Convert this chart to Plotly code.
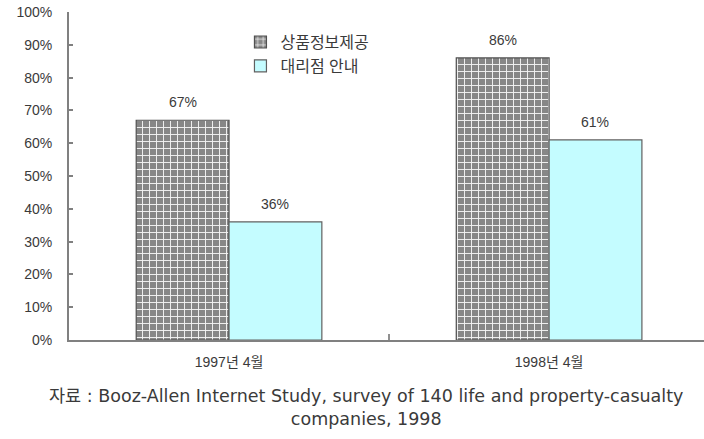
import plotly.graph_objects as go

categories = ["1997년 4월", "1998년 4월"]
series_names = ["상품정보제공", "대리점 안내"]
product_info = [67, 86]
agent_info = [36, 61]
y_ticks = [0, 10, 20, 30, 40, 50, 60, 70, 80, 90, 100]

FONT = "Liberation Sans, Noto Sans CJK KR, sans-serif"
TXT = "#3a3a3a"

fig = go.Figure()
fig.add_trace(go.Bar(
    x=categories, y=product_info, name=series_names[0],
    marker=dict(color="#8a8a8a", line=dict(color="#505050", width=1.2),
                pattern=dict(shape="+", fgcolor="#f4f4f4", bgcolor="#878787",
                             size=7, solidity=0.25, fillmode="replace")),
))
fig.add_trace(go.Bar(
    x=categories, y=agent_info, name=series_names[1],
    marker=dict(color="#c4fcff", line=dict(color="#606060", width=1.2)),
))

# value labels above bars (offset left/right half a bar within each group)
BAR_HALF_PX = 46
for series, shift in ((product_info, -BAR_HALF_PX), (agent_info, BAR_HALF_PX)):
    for cat, val in zip(categories, series):
        fig.add_annotation(
            x=cat, y=val, text=f"{val}%", showarrow=False,
            xanchor="center", yanchor="bottom", xshift=shift, yshift=8,
            font=dict(size=14, color=TXT, family=FONT),
        )

fig.update_layout(
    width=704, height=439,
    margin=dict(l=69, r=0, t=12, b=99),
    paper_bgcolor="white", plot_bgcolor="white",
    barmode="group", bargap=0.42, bargroupgap=0,
    font=dict(family=FONT, color=TXT, size=13),
    showlegend=True,
    legend=dict(x=0.27, y=0.96, xanchor="left", yanchor="top",
                bgcolor="rgba(0,0,0,0)", font=dict(size=16, color=TXT),
                itemwidth=30, tracegroupgap=0),
)
fig.update_xaxes(
    range=[-0.5, 1.484], showline=True, linecolor="#808080", linewidth=2,
    ticks="inside", tickson="boundaries", ticklen=6, tickcolor="#909090",
    tickwidth=2, tickfont=dict(size=14, color=TXT), showgrid=False,
    ticklabelstandoff=8,
)
fig.update_yaxes(
    range=[0, 100], tickvals=y_ticks, ticktext=[f"{v}%" for v in y_ticks],
    showline=True, linecolor="#808080", linewidth=2, ticks="inside", ticklen=4,
    tickcolor="#808080", tickwidth=1.5, showgrid=False, zeroline=False,
    tickfont=dict(size=14, color=TXT), ticklabelstandoff=12,
)
fig.add_annotation(
    xref="paper", yref="paper", x=0.467, y=-0.135, xanchor="center", yanchor="top",
    text="자료 : Booz-Allen Internet Study, survey of 140 life and property-casualty<br>companies, 1998",
    showarrow=False, font=dict(size=17.5, color=TXT, family="DejaVu Sans, Noto Sans CJK KR, sans-serif"),
    align="center",
)
fig.write_html("out.html")
